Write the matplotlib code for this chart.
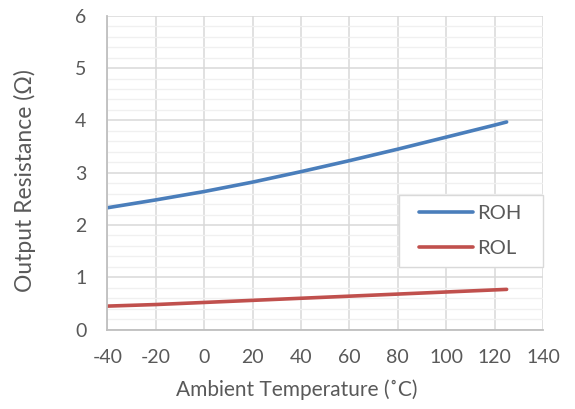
import matplotlib
matplotlib.use("Agg")
import matplotlib.pyplot as plt
from matplotlib.patches import Rectangle
from matplotlib.ticker import MultipleLocator

# Ambient temperature (°C) and output resistance (Ω)
temps = [-40, -20, 0, 20, 40, 60, 80, 100, 120, 125]
roh   = [2.33, 2.48, 2.64, 2.82, 3.02, 3.23, 3.45, 3.68, 3.91, 3.97]
rol   = [0.45, 0.48, 0.52, 0.56, 0.60, 0.64, 0.68, 0.72, 0.76, 0.77]

TEXT = "#595959"
plt.rcParams["font.family"] = ["Lato", "DejaVu Sans"]
plt.rcParams["axes.unicode_minus"] = False

fig = plt.figure(figsize=(5.75, 4.09), dpi=100)
ax = fig.add_axes([0.1866, 0.194, 0.7576, 0.7674])

ax.plot(temps, roh, color="#4A7EBB", linewidth=2.6, label="ROH", solid_capstyle="round")
ax.plot(temps, rol, color="#C0504D", linewidth=2.6, label="ROL", solid_capstyle="round")

ax.set_xlim(-40, 140)
ax.set_ylim(0, 6)
ax.xaxis.set_major_locator(MultipleLocator(20))
ax.yaxis.set_major_locator(MultipleLocator(1))
ax.yaxis.set_minor_locator(MultipleLocator(0.2))

ax.grid(which="major", color="#D9D9D9", linewidth=1.1)
ax.grid(which="minor", axis="y", color="#F0F0F0", linewidth=1.0)
ax.set_axisbelow(True)

for side in ["top", "right"]:
    ax.spines[side].set_visible(False)
for side in ["left", "bottom"]:
    ax.spines[side].set_color("#BFBFBF")
    ax.spines[side].set_linewidth(1.3)

ax.tick_params(which="both", length=0, colors=TEXT, labelsize=14)
ax.tick_params(axis="x", pad=14)
ax.tick_params(axis="y", pad=15)

ax.set_xlabel("Ambient Temperature (\u02daC)", fontsize=15, color=TEXT)
ax.set_ylabel("Output Resistance (\u03a9)", fontsize=16.5, color=TEXT)
ax.xaxis.label.set_verticalalignment("center")
ax.yaxis.label.set_verticalalignment("center")
ax.xaxis.set_label_coords(0.4355, -0.1925)
ax.yaxis.set_label_coords(-0.189, 0.4736)

# legend box drawn separately so the entries can sit with Excel-like padding
ax.add_patch(Rectangle((0.670, 0.2), 0.33, 0.229, transform=ax.transAxes,
                       facecolor="white", edgecolor="#D9D9D9", linewidth=1.0,
                       zorder=3, clip_on=False))
leg = ax.legend(loc="center left", bbox_to_anchor=(0.716, 0.3145),
                fontsize=14.5, frameon=False, handlelength=2.65,
                handletextpad=0.25, labelspacing=0.85,
                borderpad=0, borderaxespad=0)
leg.set_zorder(4)
for t in leg.get_texts():
    t.set_color(TEXT)

fig.savefig("out.png", dpi=100)
